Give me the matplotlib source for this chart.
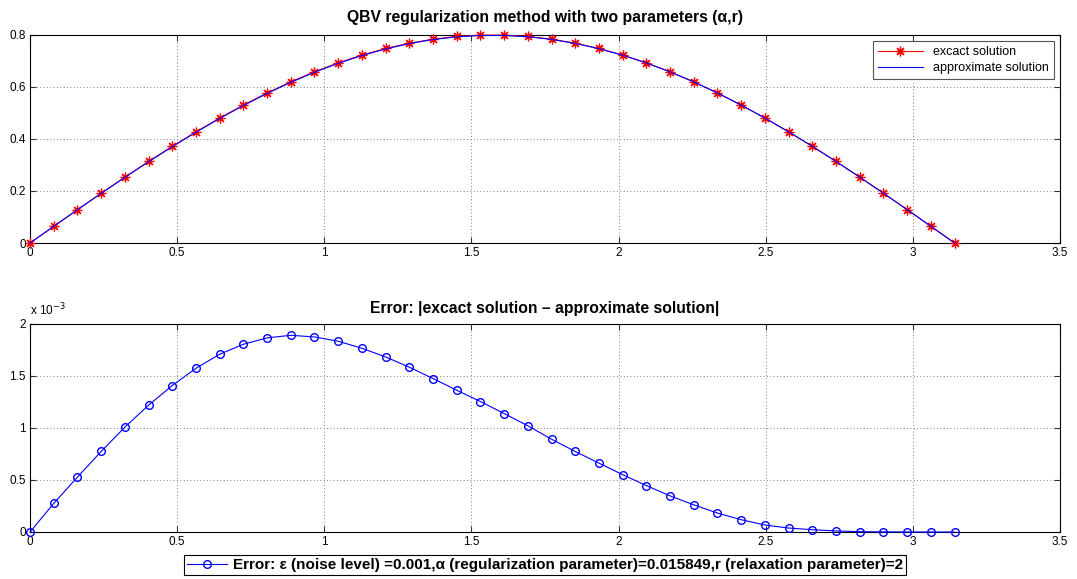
import matplotlib
matplotlib.use("Agg")
import matplotlib.pyplot as plt
from matplotlib.ticker import FormatStrFormatter

plt.rcParams['font.family'] = ['Liberation Sans', 'DejaVu Sans']

# grid points on [0, pi]
x = [0.0, 0.0806, 0.1611, 0.2417, 0.3222, 0.4028, 0.4833, 0.5639, 0.6444, 0.7250,
     0.8055, 0.8861, 0.9666, 1.0472, 1.1278, 1.2083, 1.2889, 1.3694, 1.4500, 1.5305,
     1.6111, 1.6916, 1.7722, 1.8527, 1.9333, 2.0138, 2.0944, 2.1750, 2.2555, 2.3361,
     2.4166, 2.4972, 2.5777, 2.6583, 2.7389, 2.8194, 2.9000, 2.9805, 3.0611, 3.1416]

exact = [0.0, 0.0644, 0.1284, 0.1915, 0.2533, 0.3136, 0.3718, 0.4276, 0.4806, 0.5305,
         0.5770, 0.6197, 0.6584, 0.6928, 0.7227, 0.7480, 0.7683, 0.7838, 0.7942, 0.7993,
         0.7993, 0.7942, 0.7838, 0.7683, 0.7480, 0.7227, 0.6928, 0.6584, 0.6197, 0.5770,
         0.5305, 0.4806, 0.4276, 0.3718, 0.3136, 0.2533, 0.1915, 0.1284, 0.0644, 0.0]

# error in units of 1e-3
err = [0.0, 0.275, 0.528, 0.774, 1.008, 1.219, 1.408, 1.574, 1.709, 1.805,
       1.866, 1.891, 1.875, 1.834, 1.766, 1.683, 1.584, 1.475, 1.363, 1.254,
       1.139, 1.021, 0.892, 0.774, 0.662, 0.551, 0.446, 0.347, 0.261, 0.182,
       0.118, 0.067, 0.038, 0.022, 0.010, 0.003, 0.001, 0.0, 0.0, 0.0]

approx = [e - d * 1e-3 for e, d in zip(exact, err)]

legend_err = ("Error: \u03b5 (noise level) =0.001,\u03b1 (regularization parameter)"
              "=0.015849,r (relaxation parameter)=2")

fig = plt.figure(figsize=(10.77, 5.79), dpi=100)
ax1 = fig.add_axes([0.0279, 0.5803, 0.9563, 0.3593])
ax2 = fig.add_axes([0.0279, 0.0812, 0.9563, 0.3593])


def style(ax):
    ax.set_xlim(0, 3.5)
    ax.grid(True, linestyle=(0, (1, 3)), color='#555555', linewidth=0.6)
    ax.tick_params(direction='in', length=4, width=0.8, top=True, right=True,
                   labelsize=8.5, pad=3, color='#333333')
    ax.xaxis.set_major_formatter(FormatStrFormatter('%g'))
    ax.yaxis.set_major_formatter(FormatStrFormatter('%g'))
    for s in ax.spines.values():
        s.set_linewidth(0.8)
        s.set_color('black')


ax1.plot(x, exact, color='red', marker=(8, 2, 0), markersize=7, markeredgewidth=0.9,
         linewidth=0.8, label='excact solution', clip_on=False, zorder=3)
ax1.plot(x, approx, color='blue', linewidth=0.8, label='approximate solution',
         clip_on=False, zorder=4)
style(ax1)
ax1.set_ylim(0, 0.8)
ax1.set_yticks([0, 0.2, 0.4, 0.6, 0.8])
ax1.set_title("QBV regularization method with two parameters (\u03b1,r)",
              fontsize=11.3, fontweight='bold', pad=9)
leg1 = ax1.legend(loc='upper right', fontsize=9, fancybox=False, framealpha=1,
                  edgecolor='#555555', borderaxespad=0.5, handlelength=3.6,
                  borderpad=0.4, labelspacing=0.3, numpoints=1)
leg1.get_frame().set_linewidth(0.8)

ax2.plot(x, err, color='blue', marker='o', markersize=5.5, markerfacecolor='none',
         linewidth=0.8, label=legend_err, clip_on=False, zorder=3)
style(ax2)
ax2.set_ylim(0, 2)
ax2.set_yticks([0, 0.5, 1, 1.5, 2])
ax2.set_title("Error: |excact solution \u2013 approximate solution|",
              fontsize=11.3, fontweight='bold', pad=8)
ax2.text(0.0, 1.025, r"x 10$^{-3}$", transform=ax2.transAxes, fontsize=8.5,
         ha='left', va='bottom')
leg2 = ax2.legend(loc='upper center', bbox_to_anchor=(0.5, -0.075),
                  prop={'size': 11, 'weight': 'bold'}, fancybox=False,
                  framealpha=1, edgecolor='black', borderpad=0.2,
                  handlelength=2.6, handletextpad=0.4, numpoints=1)
leg2.get_frame().set_linewidth(0.8)

fig.savefig("out.png", dpi=100)
